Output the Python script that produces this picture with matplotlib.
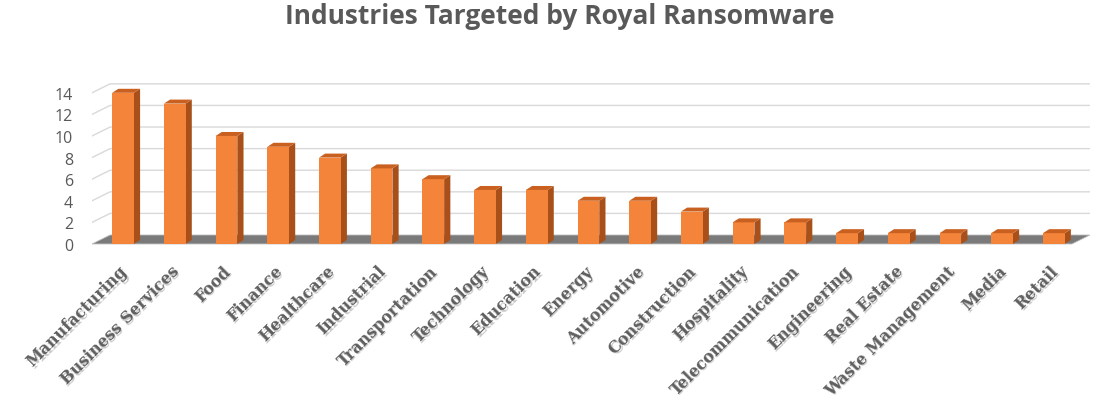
import matplotlib
matplotlib.use("Agg")
import matplotlib.pyplot as plt
from matplotlib.patches import Polygon
import matplotlib.transforms as mtransforms
import numpy as np

categories = ["Manufacturing", "Business Services", "Food", "Finance", "Healthcare",
              "Industrial", "Transportation", "Technology", "Education", "Energy",
              "Automotive", "Construction", "Hospitality", "Telecommunication",
              "Engineering", "Real Estate", "Waste Management", "Media", "Retail"]
values = [14, 13, 10, 9, 8, 7, 6, 5, 5, 4, 4, 3, 2, 2, 1, 1, 1, 1, 1]
yticks = [0, 2, 4, 6, 8, 10, 12, 14]

W, H = 1110, 400
fig = plt.figure(figsize=(W / 100, H / 100), dpi=100)
fig.patch.set_facecolor("white")

ax = fig.add_axes([92 / W, 152.8 / H, 998 / W, 170.6 / H])
x0, x1 = -0.6, 18.35
wdx, wdy = 0.35, 0.83
ax.set_xlim(x0, x1 + wdx)
ax.set_ylim(-0.3, 15.5)
ax.axis("off")

grid_c = "#d9d9d9"
for k in yticks[1:]:
    ax.plot([x0, x0 + wdx, x1 + wdx], [k, k + wdy, k + wdy], color=grid_c, lw=1.0, zorder=1)

# floor
floor = Polygon([(x0, 0), (x1, 0), (x1 + wdx, wdy), (x0 + wdx, wdy)],
                closed=True, facecolor="#7a7a7a", edgecolor="#bdbdbd", lw=0.6, zorder=2)
ax.add_patch(floor)

# y tick labels (front)
lab_off = mtransforms.offset_copy(ax.transData, fig=fig, x=-19, y=-3, units="dots")
for k in yticks:
    ax.text(x0, k, str(k), transform=lab_off, ha="right", va="center",
            fontsize=11.5, color="#595959", family="Open Sans")

# bars with pseudo 3D faces
bw = 0.21
bdx, bdy = 0.12, 0.37
xs = np.arange(len(categories))
ax.bar(xs, values, width=2 * bw, bottom=0, color="#f3843a", edgecolor="none", zorder=4)
for xi, v in zip(xs, values):
    side = Polygon([(xi + bw, 0), (xi + bw + bdx, bdy), (xi + bw + bdx, v + bdy), (xi + bw, v)],
                   closed=True, facecolor="#a9501a", edgecolor="none", zorder=3.9)
    top = Polygon([(xi - bw, v), (xi + bw, v), (xi + bw + bdx, v + bdy), (xi - bw + bdx, v + bdy)],
                  closed=True, facecolor="#c9601f", edgecolor="none", zorder=4.1)
    ax.add_patch(side)
    ax.add_patch(top)

# category labels
cat_off = mtransforms.offset_copy(ax.transData, fig=fig, x=-4, y=-19, units="dots")
shadow_off = mtransforms.offset_copy(ax.transData, fig=fig, x=-2.5, y=-20.5, units="dots")
for xi, c in zip(xs, categories):
    ax.text(xi, 0, c, transform=shadow_off, rotation=45, ha="right", va="top",
            rotation_mode="anchor", fontsize=11.5, fontweight="bold",
            family="DejaVu Serif", color="#cccccc", clip_on=False)
    ax.text(xi, 0, c, transform=cat_off, rotation=45, ha="right", va="top",
            rotation_mode="anchor", fontsize=11.5, fontweight="bold",
            family="DejaVu Serif", color="#5f5f5f", clip_on=False)

fig.text(560 / W, 1 - 17 / H, "Industries Targeted by Royal Ransomware", ha="center", va="center",
         fontsize=19, fontweight="bold", color="#595959", family="Open Sans")

fig.savefig("out.png", dpi=100, facecolor="white")
